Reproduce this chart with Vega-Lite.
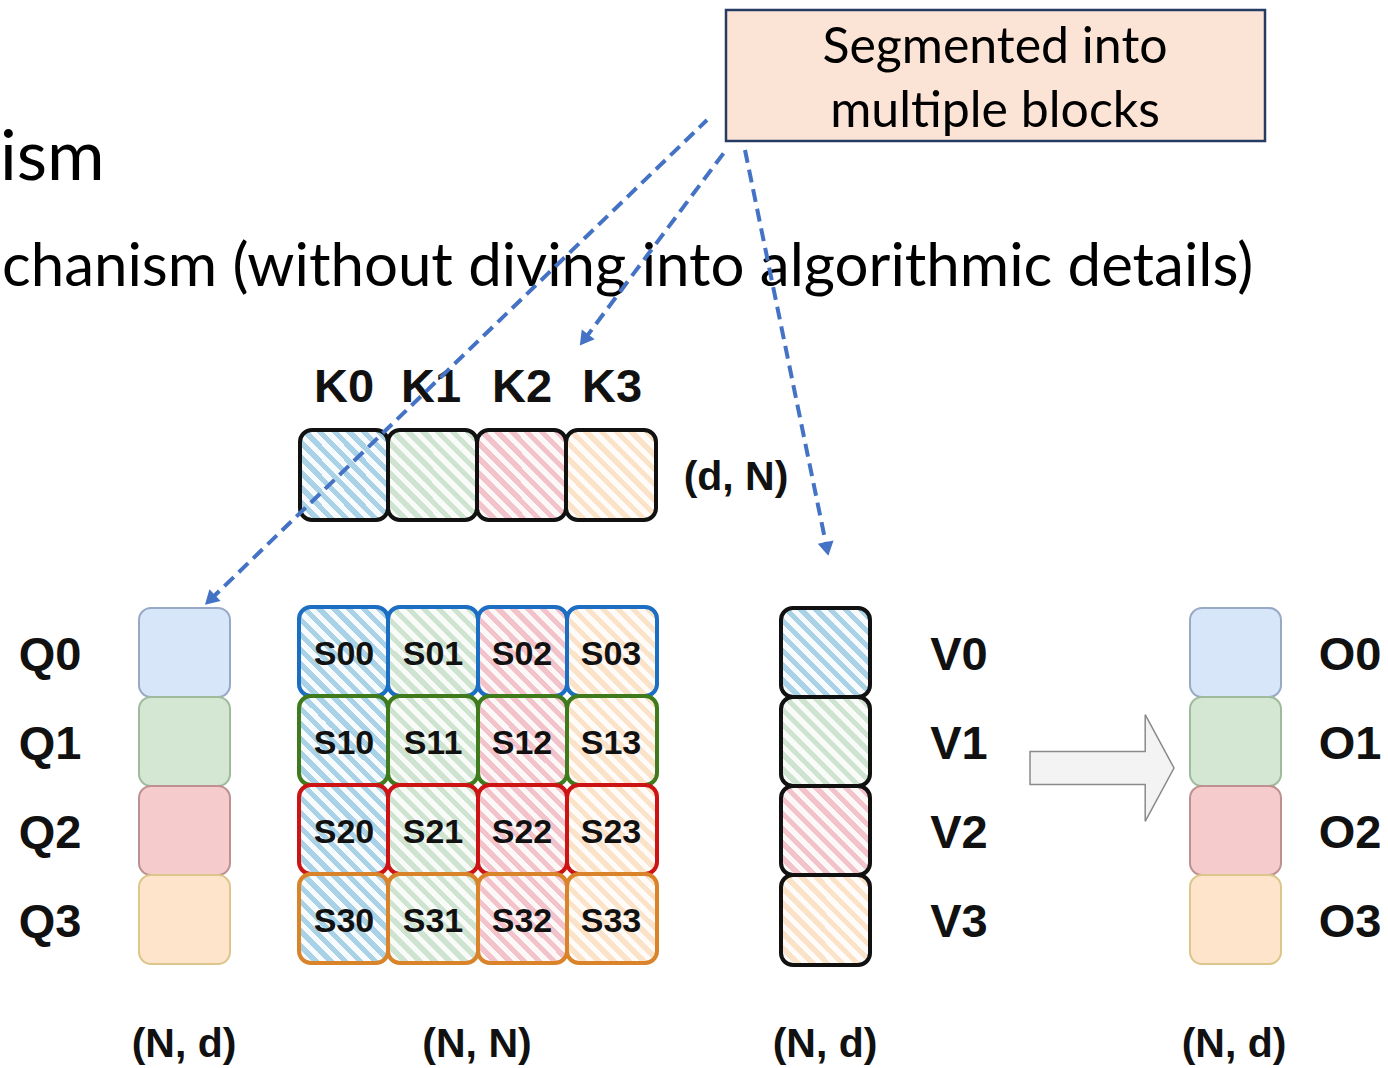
{
  "$schema": "https://vega.github.io/schema/vega-lite/v6.json",
  "width": 1388,
  "height": 1068,
  "padding": 0,
  "autosize": {"type": "fit", "contains": "padding"},
  "background": "white",
  "config": {"view": {"stroke": null}},
  "datasets": {
    "callout": [{"x1": 726, "x2": 1265, "y1": 10, "y2": 141}],
    "blocks": [
      {"id": "K0", "x1": 300, "x2": 388, "y1": 430, "y2": 520, "hatch": "b", "border": "black"},
      {"id": "K1", "x1": 388, "x2": 477, "y1": 430, "y2": 520, "hatch": "g", "border": "black"},
      {"id": "K2", "x1": 477, "x2": 566, "y1": 430, "y2": 520, "hatch": "r", "border": "black"},
      {"id": "K3", "x1": 566, "x2": 656, "y1": 430, "y2": 520, "hatch": "o", "border": "black"},
      {"id": "S00", "x1": 299, "x2": 388, "y1": 607, "y2": 696, "hatch": "b", "border": "sb"},
      {"id": "S01", "x1": 388, "x2": 478, "y1": 607, "y2": 696, "hatch": "g", "border": "sb"},
      {"id": "S02", "x1": 478, "x2": 567, "y1": 607, "y2": 696, "hatch": "r", "border": "sb"},
      {"id": "S03", "x1": 567, "x2": 657, "y1": 607, "y2": 696, "hatch": "o", "border": "sb"},
      {"id": "S10", "x1": 299, "x2": 388, "y1": 696, "y2": 785, "hatch": "b", "border": "sg"},
      {"id": "S11", "x1": 388, "x2": 478, "y1": 696, "y2": 785, "hatch": "g", "border": "sg"},
      {"id": "S12", "x1": 478, "x2": 567, "y1": 696, "y2": 785, "hatch": "r", "border": "sg"},
      {"id": "S13", "x1": 567, "x2": 657, "y1": 696, "y2": 785, "hatch": "o", "border": "sg"},
      {"id": "S20", "x1": 299, "x2": 388, "y1": 785, "y2": 874, "hatch": "b", "border": "sr"},
      {"id": "S21", "x1": 388, "x2": 478, "y1": 785, "y2": 874, "hatch": "g", "border": "sr"},
      {"id": "S22", "x1": 478, "x2": 567, "y1": 785, "y2": 874, "hatch": "r", "border": "sr"},
      {"id": "S23", "x1": 567, "x2": 657, "y1": 785, "y2": 874, "hatch": "o", "border": "sr"},
      {"id": "S30", "x1": 299, "x2": 388, "y1": 874, "y2": 963, "hatch": "b", "border": "so"},
      {"id": "S31", "x1": 388, "x2": 478, "y1": 874, "y2": 963, "hatch": "g", "border": "so"},
      {"id": "S32", "x1": 478, "x2": 567, "y1": 874, "y2": 963, "hatch": "r", "border": "so"},
      {"id": "S33", "x1": 567, "x2": 657, "y1": 874, "y2": 963, "hatch": "o", "border": "so"},
      {"id": "V0", "x1": 781, "x2": 870, "y1": 608, "y2": 697, "hatch": "b", "border": "black"},
      {"id": "V1", "x1": 781, "x2": 870, "y1": 697, "y2": 786, "hatch": "g", "border": "black"},
      {"id": "V2", "x1": 781, "x2": 870, "y1": 786, "y2": 875, "hatch": "r", "border": "black"},
      {"id": "V3", "x1": 781, "x2": 870, "y1": 875, "y2": 965, "hatch": "o", "border": "black"}
    ],
    "solid": [
      {"id": "Q0", "x1": 139, "x2": 230, "y1": 608, "y2": 697, "tone": "b", "border": "qb"},
      {"id": "Q1", "x1": 139, "x2": 230, "y1": 697, "y2": 786, "tone": "g", "border": "qg"},
      {"id": "Q2", "x1": 139, "x2": 230, "y1": 786, "y2": 875, "tone": "r", "border": "qr"},
      {"id": "Q3", "x1": 139, "x2": 230, "y1": 875, "y2": 964, "tone": "o", "border": "qo"},
      {"id": "O0", "x1": 1190, "x2": 1281, "y1": 608, "y2": 697, "tone": "b", "border": "qb"},
      {"id": "O1", "x1": 1190, "x2": 1281, "y1": 697, "y2": 786, "tone": "g", "border": "qg"},
      {"id": "O2", "x1": 1190, "x2": 1281, "y1": 786, "y2": 875, "tone": "r", "border": "qr"},
      {"id": "O3", "x1": 1190, "x2": 1281, "y1": 875, "y2": 964, "tone": "o", "border": "qo"}
    ],
    "labels": [
      {"t": "ism", "x": 0, "y": 180, "g": "h1"},
      {"t": "chanism (without diving into algorithmic details)", "x": 2, "y": 286, "g": "h2"},
      {"t": "Segmented into", "x": 995, "y": 63, "g": "call"},
      {"t": "multiple blocks", "x": 995, "y": 127, "g": "call"},
      {"t": "K0", "x": 344, "y": 402, "g": "K"},
      {"t": "K1", "x": 431, "y": 402, "g": "K"},
      {"t": "K2", "x": 522, "y": 402, "g": "K"},
      {"t": "K3", "x": 612, "y": 402, "g": "K"},
      {"t": "(d, N)", "x": 736, "y": 490, "g": "dim"},
      {"t": "Q0", "x": 50, "y": 670, "g": "row"},
      {"t": "Q1", "x": 50, "y": 759, "g": "row"},
      {"t": "Q2", "x": 50, "y": 848, "g": "row"},
      {"t": "Q3", "x": 50, "y": 937, "g": "row"},
      {"t": "V0", "x": 959, "y": 670, "g": "row"},
      {"t": "V1", "x": 959, "y": 759, "g": "row"},
      {"t": "V2", "x": 959, "y": 848, "g": "row"},
      {"t": "V3", "x": 959, "y": 937, "g": "row"},
      {"t": "O0", "x": 1350, "y": 670, "g": "row"},
      {"t": "O1", "x": 1350, "y": 759, "g": "row"},
      {"t": "O2", "x": 1350, "y": 848, "g": "row"},
      {"t": "O3", "x": 1350, "y": 937, "g": "row"},
      {"t": "S00", "x": 344, "y": 665, "g": "S"},
      {"t": "S01", "x": 433, "y": 665, "g": "S"},
      {"t": "S02", "x": 522, "y": 665, "g": "S"},
      {"t": "S03", "x": 611, "y": 665, "g": "S"},
      {"t": "S10", "x": 344, "y": 754, "g": "S"},
      {"t": "S11", "x": 433, "y": 754, "g": "S"},
      {"t": "S12", "x": 522, "y": 754, "g": "S"},
      {"t": "S13", "x": 611, "y": 754, "g": "S"},
      {"t": "S20", "x": 344, "y": 843, "g": "S"},
      {"t": "S21", "x": 433, "y": 843, "g": "S"},
      {"t": "S22", "x": 522, "y": 843, "g": "S"},
      {"t": "S23", "x": 611, "y": 843, "g": "S"},
      {"t": "S30", "x": 344, "y": 932, "g": "S"},
      {"t": "S31", "x": 433, "y": 932, "g": "S"},
      {"t": "S32", "x": 522, "y": 932, "g": "S"},
      {"t": "S33", "x": 611, "y": 932, "g": "S"},
      {"t": "(N, d)", "x": 184, "y": 1057, "g": "dim"},
      {"t": "(N, N)", "x": 477, "y": 1057, "g": "dim"},
      {"t": "(N, d)", "x": 825, "y": 1057, "g": "dim"},
      {"t": "(N, d)", "x": 1234, "y": 1057, "g": "dim"}
    ],
    "dash": [
      {"a": 1, "x": 707, "y": 120},
      {"a": 1, "x": 210, "y": 600},
      {"a": 2, "x": 726, "y": 150},
      {"a": 2, "x": 584, "y": 340},
      {"a": 3, "x": 745, "y": 150},
      {"a": 3, "x": 827, "y": 549}
    ],
    "bigarrow": [{"x": 1102, "y": 768}]
  },
  "layer": [
    {
      "data": {"name": "callout"},
      "mark": {"type": "rect", "fill": "#fbe4d6", "stroke": "#243b63", "strokeWidth": 2.5},
      "encoding": {
        "x": {"field": "x1", "type": "quantitative", "scale": {"domain": [0, 1388], "nice": false, "zero": false}, "axis": null},
        "x2": {"field": "x2"},
        "y": {"field": "y1", "type": "quantitative", "scale": {"domain": [0, 1068], "nice": false, "zero": false, "reverse": true}, "axis": null},
        "y2": {"field": "y2"}
      }
    },
    {
      "data": {"name": "blocks"},
      "transform": [{"filter": "datum.hatch == 'b'"}],
      "mark": {"type": "rect", "cornerRadius": 12, "fill": {"gradient": "linear", "x1": 0, "y1": 1, "x2": 1, "y2": 0, "stops": [{"offset":0,"color":"#a9d2e6"},{"offset":0.0417,"color":"#a9d2e6"},{"offset":0.0417,"color":"#f7fbfd"},{"offset":0.0833,"color":"#f7fbfd"},{"offset":0.0833,"color":"#a9d2e6"},{"offset":0.125,"color":"#a9d2e6"},{"offset":0.125,"color":"#f7fbfd"},{"offset":0.1667,"color":"#f7fbfd"},{"offset":0.1667,"color":"#a9d2e6"},{"offset":0.2083,"color":"#a9d2e6"},{"offset":0.2083,"color":"#f7fbfd"},{"offset":0.25,"color":"#f7fbfd"},{"offset":0.25,"color":"#a9d2e6"},{"offset":0.2917,"color":"#a9d2e6"},{"offset":0.2917,"color":"#f7fbfd"},{"offset":0.3333,"color":"#f7fbfd"},{"offset":0.3333,"color":"#a9d2e6"},{"offset":0.375,"color":"#a9d2e6"},{"offset":0.375,"color":"#f7fbfd"},{"offset":0.4167,"color":"#f7fbfd"},{"offset":0.4167,"color":"#a9d2e6"},{"offset":0.4583,"color":"#a9d2e6"},{"offset":0.4583,"color":"#f7fbfd"},{"offset":0.5,"color":"#f7fbfd"},{"offset":0.5,"color":"#a9d2e6"},{"offset":0.5417,"color":"#a9d2e6"},{"offset":0.5417,"color":"#f7fbfd"},{"offset":0.5833,"color":"#f7fbfd"},{"offset":0.5833,"color":"#a9d2e6"},{"offset":0.625,"color":"#a9d2e6"},{"offset":0.625,"color":"#f7fbfd"},{"offset":0.6667,"color":"#f7fbfd"},{"offset":0.6667,"color":"#a9d2e6"},{"offset":0.7083,"color":"#a9d2e6"},{"offset":0.7083,"color":"#f7fbfd"},{"offset":0.75,"color":"#f7fbfd"},{"offset":0.75,"color":"#a9d2e6"},{"offset":0.7917,"color":"#a9d2e6"},{"offset":0.7917,"color":"#f7fbfd"},{"offset":0.8333,"color":"#f7fbfd"},{"offset":0.8333,"color":"#a9d2e6"},{"offset":0.875,"color":"#a9d2e6"},{"offset":0.875,"color":"#f7fbfd"},{"offset":0.9167,"color":"#f7fbfd"},{"offset":0.9167,"color":"#a9d2e6"},{"offset":0.9583,"color":"#a9d2e6"},{"offset":0.9583,"color":"#f7fbfd"},{"offset":1,"color":"#f7fbfd"}]}},
      "encoding": {
        "x": {"field": "x1", "type": "quantitative", "scale": {"domain": [0, 1388], "nice": false, "zero": false}, "axis": null},
        "x2": {"field": "x2"},
        "y": {"field": "y1", "type": "quantitative", "scale": {"domain": [0, 1068], "nice": false, "zero": false, "reverse": true}, "axis": null},
        "y2": {"field": "y2"}
      }
    },
    {
      "data": {"name": "blocks"},
      "transform": [{"filter": "datum.hatch == 'g'"}],
      "mark": {"type": "rect", "cornerRadius": 12, "fill": {"gradient": "linear", "x1": 0, "y1": 1, "x2": 1, "y2": 0, "stops": [{"offset":0,"color":"#cfe3d1"},{"offset":0.0417,"color":"#cfe3d1"},{"offset":0.0417,"color":"#f8fbf8"},{"offset":0.0833,"color":"#f8fbf8"},{"offset":0.0833,"color":"#cfe3d1"},{"offset":0.125,"color":"#cfe3d1"},{"offset":0.125,"color":"#f8fbf8"},{"offset":0.1667,"color":"#f8fbf8"},{"offset":0.1667,"color":"#cfe3d1"},{"offset":0.2083,"color":"#cfe3d1"},{"offset":0.2083,"color":"#f8fbf8"},{"offset":0.25,"color":"#f8fbf8"},{"offset":0.25,"color":"#cfe3d1"},{"offset":0.2917,"color":"#cfe3d1"},{"offset":0.2917,"color":"#f8fbf8"},{"offset":0.3333,"color":"#f8fbf8"},{"offset":0.3333,"color":"#cfe3d1"},{"offset":0.375,"color":"#cfe3d1"},{"offset":0.375,"color":"#f8fbf8"},{"offset":0.4167,"color":"#f8fbf8"},{"offset":0.4167,"color":"#cfe3d1"},{"offset":0.4583,"color":"#cfe3d1"},{"offset":0.4583,"color":"#f8fbf8"},{"offset":0.5,"color":"#f8fbf8"},{"offset":0.5,"color":"#cfe3d1"},{"offset":0.5417,"color":"#cfe3d1"},{"offset":0.5417,"color":"#f8fbf8"},{"offset":0.5833,"color":"#f8fbf8"},{"offset":0.5833,"color":"#cfe3d1"},{"offset":0.625,"color":"#cfe3d1"},{"offset":0.625,"color":"#f8fbf8"},{"offset":0.6667,"color":"#f8fbf8"},{"offset":0.6667,"color":"#cfe3d1"},{"offset":0.7083,"color":"#cfe3d1"},{"offset":0.7083,"color":"#f8fbf8"},{"offset":0.75,"color":"#f8fbf8"},{"offset":0.75,"color":"#cfe3d1"},{"offset":0.7917,"color":"#cfe3d1"},{"offset":0.7917,"color":"#f8fbf8"},{"offset":0.8333,"color":"#f8fbf8"},{"offset":0.8333,"color":"#cfe3d1"},{"offset":0.875,"color":"#cfe3d1"},{"offset":0.875,"color":"#f8fbf8"},{"offset":0.9167,"color":"#f8fbf8"},{"offset":0.9167,"color":"#cfe3d1"},{"offset":0.9583,"color":"#cfe3d1"},{"offset":0.9583,"color":"#f8fbf8"},{"offset":1,"color":"#f8fbf8"}]}},
      "encoding": {
        "x": {"field": "x1", "type": "quantitative", "scale": {"domain": [0, 1388], "nice": false, "zero": false}, "axis": null},
        "x2": {"field": "x2"},
        "y": {"field": "y1", "type": "quantitative", "scale": {"domain": [0, 1068], "nice": false, "zero": false, "reverse": true}, "axis": null},
        "y2": {"field": "y2"}
      }
    },
    {
      "data": {"name": "blocks"},
      "transform": [{"filter": "datum.hatch == 'r'"}],
      "mark": {"type": "rect", "cornerRadius": 12, "fill": {"gradient": "linear", "x1": 0, "y1": 1, "x2": 1, "y2": 0, "stops": [{"offset":0,"color":"#f3c3cb"},{"offset":0.0417,"color":"#f3c3cb"},{"offset":0.0417,"color":"#fdf8f8"},{"offset":0.0833,"color":"#fdf8f8"},{"offset":0.0833,"color":"#f3c3cb"},{"offset":0.125,"color":"#f3c3cb"},{"offset":0.125,"color":"#fdf8f8"},{"offset":0.1667,"color":"#fdf8f8"},{"offset":0.1667,"color":"#f3c3cb"},{"offset":0.2083,"color":"#f3c3cb"},{"offset":0.2083,"color":"#fdf8f8"},{"offset":0.25,"color":"#fdf8f8"},{"offset":0.25,"color":"#f3c3cb"},{"offset":0.2917,"color":"#f3c3cb"},{"offset":0.2917,"color":"#fdf8f8"},{"offset":0.3333,"color":"#fdf8f8"},{"offset":0.3333,"color":"#f3c3cb"},{"offset":0.375,"color":"#f3c3cb"},{"offset":0.375,"color":"#fdf8f8"},{"offset":0.4167,"color":"#fdf8f8"},{"offset":0.4167,"color":"#f3c3cb"},{"offset":0.4583,"color":"#f3c3cb"},{"offset":0.4583,"color":"#fdf8f8"},{"offset":0.5,"color":"#fdf8f8"},{"offset":0.5,"color":"#f3c3cb"},{"offset":0.5417,"color":"#f3c3cb"},{"offset":0.5417,"color":"#fdf8f8"},{"offset":0.5833,"color":"#fdf8f8"},{"offset":0.5833,"color":"#f3c3cb"},{"offset":0.625,"color":"#f3c3cb"},{"offset":0.625,"color":"#fdf8f8"},{"offset":0.6667,"color":"#fdf8f8"},{"offset":0.6667,"color":"#f3c3cb"},{"offset":0.7083,"color":"#f3c3cb"},{"offset":0.7083,"color":"#fdf8f8"},{"offset":0.75,"color":"#fdf8f8"},{"offset":0.75,"color":"#f3c3cb"},{"offset":0.7917,"color":"#f3c3cb"},{"offset":0.7917,"color":"#fdf8f8"},{"offset":0.8333,"color":"#fdf8f8"},{"offset":0.8333,"color":"#f3c3cb"},{"offset":0.875,"color":"#f3c3cb"},{"offset":0.875,"color":"#fdf8f8"},{"offset":0.9167,"color":"#fdf8f8"},{"offset":0.9167,"color":"#f3c3cb"},{"offset":0.9583,"color":"#f3c3cb"},{"offset":0.9583,"color":"#fdf8f8"},{"offset":1,"color":"#fdf8f8"}]}},
      "encoding": {
        "x": {"field": "x1", "type": "quantitative", "scale": {"domain": [0, 1388], "nice": false, "zero": false}, "axis": null},
        "x2": {"field": "x2"},
        "y": {"field": "y1", "type": "quantitative", "scale": {"domain": [0, 1068], "nice": false, "zero": false, "reverse": true}, "axis": null},
        "y2": {"field": "y2"}
      }
    },
    {
      "data": {"name": "blocks"},
      "transform": [{"filter": "datum.hatch == 'o'"}],
      "mark": {"type": "rect", "cornerRadius": 12, "fill": {"gradient": "linear", "x1": 0, "y1": 1, "x2": 1, "y2": 0, "stops": [{"offset":0,"color":"#fbe3c9"},{"offset":0.0417,"color":"#fbe3c9"},{"offset":0.0417,"color":"#fefbf8"},{"offset":0.0833,"color":"#fefbf8"},{"offset":0.0833,"color":"#fbe3c9"},{"offset":0.125,"color":"#fbe3c9"},{"offset":0.125,"color":"#fefbf8"},{"offset":0.1667,"color":"#fefbf8"},{"offset":0.1667,"color":"#fbe3c9"},{"offset":0.2083,"color":"#fbe3c9"},{"offset":0.2083,"color":"#fefbf8"},{"offset":0.25,"color":"#fefbf8"},{"offset":0.25,"color":"#fbe3c9"},{"offset":0.2917,"color":"#fbe3c9"},{"offset":0.2917,"color":"#fefbf8"},{"offset":0.3333,"color":"#fefbf8"},{"offset":0.3333,"color":"#fbe3c9"},{"offset":0.375,"color":"#fbe3c9"},{"offset":0.375,"color":"#fefbf8"},{"offset":0.4167,"color":"#fefbf8"},{"offset":0.4167,"color":"#fbe3c9"},{"offset":0.4583,"color":"#fbe3c9"},{"offset":0.4583,"color":"#fefbf8"},{"offset":0.5,"color":"#fefbf8"},{"offset":0.5,"color":"#fbe3c9"},{"offset":0.5417,"color":"#fbe3c9"},{"offset":0.5417,"color":"#fefbf8"},{"offset":0.5833,"color":"#fefbf8"},{"offset":0.5833,"color":"#fbe3c9"},{"offset":0.625,"color":"#fbe3c9"},{"offset":0.625,"color":"#fefbf8"},{"offset":0.6667,"color":"#fefbf8"},{"offset":0.6667,"color":"#fbe3c9"},{"offset":0.7083,"color":"#fbe3c9"},{"offset":0.7083,"color":"#fefbf8"},{"offset":0.75,"color":"#fefbf8"},{"offset":0.75,"color":"#fbe3c9"},{"offset":0.7917,"color":"#fbe3c9"},{"offset":0.7917,"color":"#fefbf8"},{"offset":0.8333,"color":"#fefbf8"},{"offset":0.8333,"color":"#fbe3c9"},{"offset":0.875,"color":"#fbe3c9"},{"offset":0.875,"color":"#fefbf8"},{"offset":0.9167,"color":"#fefbf8"},{"offset":0.9167,"color":"#fbe3c9"},{"offset":0.9583,"color":"#fbe3c9"},{"offset":0.9583,"color":"#fefbf8"},{"offset":1,"color":"#fefbf8"}]}},
      "encoding": {
        "x": {"field": "x1", "type": "quantitative", "scale": {"domain": [0, 1388], "nice": false, "zero": false}, "axis": null},
        "x2": {"field": "x2"},
        "y": {"field": "y1", "type": "quantitative", "scale": {"domain": [0, 1068], "nice": false, "zero": false, "reverse": true}, "axis": null},
        "y2": {"field": "y2"}
      }
    },
    {
      "data": {"name": "solid"},
      "mark": {"type": "rect", "cornerRadius": 12, "strokeWidth": 2, "opacity": 1},
      "encoding": {
        "x": {"field": "x1", "type": "quantitative", "scale": {"domain": [0, 1388], "nice": false, "zero": false}, "axis": null},
        "x2": {"field": "x2"},
        "y": {"field": "y1", "type": "quantitative", "scale": {"domain": [0, 1068], "nice": false, "zero": false, "reverse": true}, "axis": null},
        "y2": {"field": "y2"},
        "fill": {"field": "tone", "type": "nominal", "scale": {"domain": ["b", "g", "r", "o"], "range": ["#d8e6fa", "#d4e7d3", "#f5cbcb", "#fde4ca"]}, "legend": null},
        "stroke": {"field": "border", "type": "nominal", "scale": {"domain": ["black", "sb", "sg", "sr", "so", "qb", "qg", "qr", "qo"], "range": ["#111111", "#1b6ec2", "#3f7b1c", "#cc1414", "#d9832a", "#98a9c6", "#a0bb9c", "#bf9090", "#dcc68c"]}, "legend": null}
      }
    },
    {
      "data": {"name": "blocks"},
      "mark": {"type": "rect", "cornerRadius": 12, "filled": false, "strokeWidth": 4, "opacity": 1},
      "encoding": {
        "x": {"field": "x1", "type": "quantitative", "scale": {"domain": [0, 1388], "nice": false, "zero": false}, "axis": null},
        "x2": {"field": "x2"},
        "y": {"field": "y1", "type": "quantitative", "scale": {"domain": [0, 1068], "nice": false, "zero": false, "reverse": true}, "axis": null},
        "y2": {"field": "y2"},
        "stroke": {"field": "border", "type": "nominal", "scale": {"domain": ["black", "sb", "sg", "sr", "so", "qb", "qg", "qr", "qo"], "range": ["#111111", "#1b6ec2", "#3f7b1c", "#cc1414", "#d9832a", "#98a9c6", "#a0bb9c", "#bf9090", "#dcc68c"]}, "legend": null}
      }
    },
    {
      "data": {"name": "bigarrow"},
      "mark": {"type": "point", "shape": "M-1,-0.23 L0.6,-0.23 L0.6,-0.74 L1,0 L0.6,0.74 L0.6,0.23 L-1,0.23 Z", "size": 20736, "filled": true, "fill": "#f3f3f3", "stroke": "#8a8a8a", "strokeWidth": 1.5, "opacity": 1},
      "encoding": {
        "x": {"field": "x", "type": "quantitative", "scale": {"domain": [0, 1388], "nice": false, "zero": false}, "axis": null},
        "y": {"field": "y", "type": "quantitative", "scale": {"domain": [0, 1068], "nice": false, "zero": false, "reverse": true}, "axis": null}
      }
    },
    {
      "data": {"name": "labels"},
      "transform": [{"filter": "datum.g == 'h1'"}],
      "mark": {"type": "text", "font": "Lato", "fontSize": 70, "align": "left", "baseline": "alphabetic", "color": "#000000"},
      "encoding": {
        "x": {"field": "x", "type": "quantitative", "scale": {"domain": [0, 1388], "nice": false, "zero": false}, "axis": null},
        "y": {"field": "y", "type": "quantitative", "scale": {"domain": [0, 1068], "nice": false, "zero": false, "reverse": true}, "axis": null},
        "text": {"field": "t"}
      }
    },
    {
      "data": {"name": "labels"},
      "transform": [{"filter": "datum.g == 'h2'"}],
      "mark": {"type": "text", "font": "Lato", "fontSize": 60, "align": "left", "baseline": "alphabetic", "color": "#000000"},
      "encoding": {
        "x": {"field": "x", "type": "quantitative", "scale": {"domain": [0, 1388], "nice": false, "zero": false}, "axis": null},
        "y": {"field": "y", "type": "quantitative", "scale": {"domain": [0, 1068], "nice": false, "zero": false, "reverse": true}, "axis": null},
        "text": {"field": "t"}
      }
    },
    {
      "data": {"name": "labels"},
      "transform": [{"filter": "datum.g == 'call'"}],
      "mark": {"type": "text", "font": "Lato", "fontSize": 50, "align": "center", "baseline": "alphabetic", "color": "#000000"},
      "encoding": {
        "x": {"field": "x", "type": "quantitative", "scale": {"domain": [0, 1388], "nice": false, "zero": false}, "axis": null},
        "y": {"field": "y", "type": "quantitative", "scale": {"domain": [0, 1068], "nice": false, "zero": false, "reverse": true}, "axis": null},
        "text": {"field": "t"}
      }
    },
    {
      "data": {"name": "labels"},
      "transform": [{"filter": "datum.g == 'K' || datum.g == 'row'"}],
      "mark": {"type": "text", "font": "Liberation Sans", "fontWeight": "bold", "fontSize": 47, "align": "center", "baseline": "alphabetic", "color": "#111111"},
      "encoding": {
        "x": {"field": "x", "type": "quantitative", "scale": {"domain": [0, 1388], "nice": false, "zero": false}, "axis": null},
        "y": {"field": "y", "type": "quantitative", "scale": {"domain": [0, 1068], "nice": false, "zero": false, "reverse": true}, "axis": null},
        "text": {"field": "t"}
      }
    },
    {
      "data": {"name": "labels"},
      "transform": [{"filter": "datum.g == 'S'"}],
      "mark": {"type": "text", "font": "Liberation Sans", "fontWeight": "bold", "fontSize": 34, "align": "center", "baseline": "alphabetic", "color": "#111111"},
      "encoding": {
        "x": {"field": "x", "type": "quantitative", "scale": {"domain": [0, 1388], "nice": false, "zero": false}, "axis": null},
        "y": {"field": "y", "type": "quantitative", "scale": {"domain": [0, 1068], "nice": false, "zero": false, "reverse": true}, "axis": null},
        "text": {"field": "t"}
      }
    },
    {
      "data": {"name": "labels"},
      "transform": [{"filter": "datum.g == 'dim'"}],
      "mark": {"type": "text", "font": "Liberation Sans", "fontWeight": "bold", "fontSize": 41, "align": "center", "baseline": "alphabetic", "color": "#111111"},
      "encoding": {
        "x": {"field": "x", "type": "quantitative", "scale": {"domain": [0, 1388], "nice": false, "zero": false}, "axis": null},
        "y": {"field": "y", "type": "quantitative", "scale": {"domain": [0, 1068], "nice": false, "zero": false, "reverse": true}, "axis": null},
        "text": {"field": "t"}
      }
    },
    {
      "data": {"name": "dash"},
      "mark": {"type": "line", "color": "#4472c4", "strokeWidth": 4, "strokeDash": [13, 7]},
      "encoding": {
        "x": {"field": "x", "type": "quantitative", "scale": {"domain": [0, 1388], "nice": false, "zero": false}, "axis": null},
        "y": {"field": "y", "type": "quantitative", "scale": {"domain": [0, 1068], "nice": false, "zero": false, "reverse": true}, "axis": null},
        "detail": {"field": "a", "type": "nominal"}
      }
    },
    {
      "data": {"name": "dash"},
      "transform": [{"filter": "datum.a == 1 && datum.y > 500"}],
      "mark": {"type": "point", "shape": "triangle-up", "size": 260, "filled": true, "color": "#4472c4", "opacity": 1, "angle": 226},
      "encoding": {
        "x": {"field": "x", "type": "quantitative", "scale": {"domain": [0, 1388], "nice": false, "zero": false}, "axis": null},
        "y": {"field": "y", "type": "quantitative", "scale": {"domain": [0, 1068], "nice": false, "zero": false, "reverse": true}, "axis": null}
      }
    },
    {
      "data": {"name": "dash"},
      "transform": [{"filter": "datum.a == 2 && datum.y > 300"}],
      "mark": {"type": "point", "shape": "triangle-up", "size": 260, "filled": true, "color": "#4472c4", "opacity": 1, "angle": 217},
      "encoding": {
        "x": {"field": "x", "type": "quantitative", "scale": {"domain": [0, 1388], "nice": false, "zero": false}, "axis": null},
        "y": {"field": "y", "type": "quantitative", "scale": {"domain": [0, 1068], "nice": false, "zero": false, "reverse": true}, "axis": null}
      }
    },
    {
      "data": {"name": "dash"},
      "transform": [{"filter": "datum.a == 3 && datum.y > 500"}],
      "mark": {"type": "point", "shape": "triangle-up", "size": 260, "filled": true, "color": "#4472c4", "opacity": 1, "angle": 169},
      "encoding": {
        "x": {"field": "x", "type": "quantitative", "scale": {"domain": [0, 1388], "nice": false, "zero": false}, "axis": null},
        "y": {"field": "y", "type": "quantitative", "scale": {"domain": [0, 1068], "nice": false, "zero": false, "reverse": true}, "axis": null}
      }
    }
  ]
}
